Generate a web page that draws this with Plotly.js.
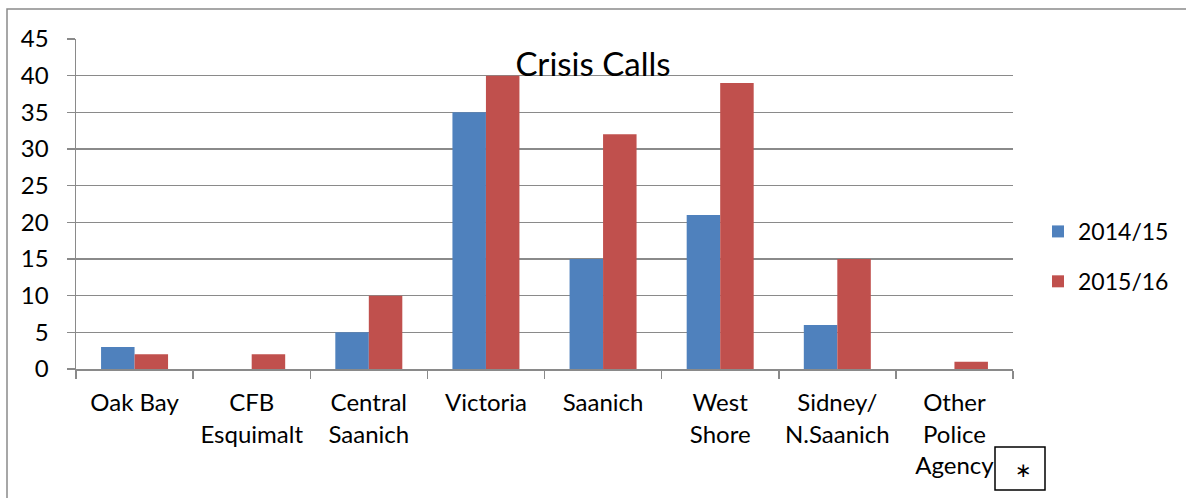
<!DOCTYPE html>
<html>
<head>
<meta charset="utf-8">
<script src="https://cdn.plot.ly/plotly-3.0.1.min.js"></script>
<style>html,body{margin:0;padding:0;background:#fff;}#chart{width:1186px;height:498px;}</style>
</head>
<body>
<div id="chart"></div>
<script>
const categories = ["Oak Bay", "CFB<br>Esquimalt", "Central<br>Saanich", "Victoria", "Saanich", "West<br>Shore", "Sidney/<br>N.Saanich", "Other<br>Police<br>Agency"];
const series2014 = [3, 0, 5, 35, 15, 21, 6, 0];
const series2015 = [2, 2, 10, 40, 32, 39, 15, 1];
const seriesNames = ["2014/15", "2015/16"];
const yTicks = [0, 5, 10, 15, 20, 25, 30, 35, 40, 45];

const FONT = "Lato, 'Liberation Sans', sans-serif";
const GRID = "#8a8a8a";
const px2x = function (p) { return (p - 76) / 937; };
const px2y = function (p) { return (369 - p) / 330; };

const traces = [
  {type: "bar", name: seriesNames[0], x: categories, y: series2014, marker: {color: "#4F81BD"}, legendgroup: "a", hoverinfo: "none"},
  {type: "bar", name: seriesNames[1], x: categories, y: series2015, marker: {color: "#C0504D"}, legendgroup: "b", hoverinfo: "none"}
];

const layout = {
  width: 1186, height: 498,
  margin: {l: 76, r: 173, t: 39, b: 129, pad: 0, autoexpand: false},
  paper_bgcolor: "#fff", plot_bgcolor: "#fff",
  font: {family: FONT, size: 24, color: "#000"},
  title: {text: "Crisis Calls", font: {family: FONT, size: 33, color: "#000"}, x: 0.5, xref: "container", xanchor: "center", y: 1 - 64/498, yref: "container", yanchor: "middle"},
  barmode: "group", bargap: 0.428, bargroupgap: 0,
  showlegend: true,
  legend: {x: 1.0267, xanchor: "left", y: 0.341, yanchor: "middle", traceorder: "grouped", tracegroupgap: 17, font: {family: FONT, size: 23, color: "#000"}, itemwidth: 30, bgcolor: "rgba(0,0,0,0)"},
  xaxis: {
    type: "category", showgrid: false, zeroline: false, automargin: false,
    showline: true, linecolor: GRID, linewidth: 1.5,
    ticks: "outside", tickson: "boundaries", ticklen: 8, tickcolor: GRID, tickwidth: 1.5,
    tickfont: {family: FONT, size: 24, color: "#000"}, ticklabelstandoff: 12,
    fixedrange: true
  },
  yaxis: {
    range: [0, 45], tickvals: yTicks, ticktext: yTicks.map(String), automargin: false,
    showgrid: true, gridcolor: GRID, gridwidth: 1.5, zeroline: false,
    showline: true, linecolor: GRID, linewidth: 1.5,
    ticks: "outside", ticklen: 8, tickcolor: GRID, tickwidth: 1.5,
    tickfont: {family: FONT, size: 24, color: "#000"}, ticklabelstandoff: 13,
    fixedrange: true
  },
  shapes: [
    {type: "path", xref: "paper", yref: "paper",
     path: "M " + px2x(7) + "," + px2y(505) + " L " + px2x(7) + "," + px2y(9) + " L " + px2x(1195) + "," + px2y(9),
     line: {color: GRID, width: 1.5}},
    {type: "rect", xref: "paper", yref: "paper", x0: px2x(995), x1: px2x(1045), y0: px2y(490), y1: px2y(447),
     line: {color: "#000", width: 1.5}, fillcolor: "rgba(0,0,0,0)"}
  ],
  annotations: [
    {text: "∗", xref: "paper", yref: "paper", x: px2x(1023), y: px2y(470), xanchor: "center", yanchor: "middle",
     showarrow: false, font: {family: "DejaVu Sans", size: 20, color: "#000"}}
  ]
};

Plotly.newPlot("chart", traces, layout, {displayModeBar: false, staticPlot: true});
</script>
</body>
</html>
